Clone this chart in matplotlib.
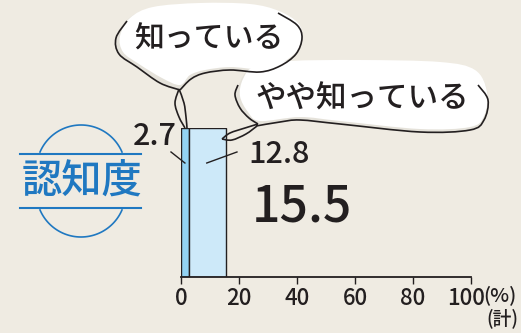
import numpy as np
import matplotlib
matplotlib.use("Agg")
import matplotlib.pyplot as plt
from matplotlib.path import Path
from matplotlib.patches import PathPatch
from matplotlib.transforms import ScaledTranslation

plt.rcParams['font.family'] = ['Noto Sans CJK JP', 'DejaVu Sans']

# ---- data ----
categories = ["知っている", "やや知っている"]
values = [2.7, 12.8]
total_label = "15.5"
value_labels = ["2.7", "12.8"]
xticks = [0, 20, 40, 60, 80, 100]
title_text = "認知度"

BG = "#efebe2"
DARK = "#231f20"
BLUE = "#1f78c1"
bar_colors = ["#93d3f3", "#cde9f9"]

W, H = 521, 333
fig = plt.figure(figsize=(W / 100, H / 100), dpi=100, facecolor=BG)

# data axes (pixel frame: x 0->181, 100->471 ; bar from y=128 to 277)
ax = fig.add_axes([181 / W, (H - 277) / H, 290 / W, 149 / H])
ax.set_facecolor("none")
left = 0
for v, c in zip(values, bar_colors):
    ax.barh(0, v, left=left, height=1.0, color=c, edgecolor=DARK, linewidth=1.0, zorder=2)
    left += v
ax.set_xlim(0, 100)
ax.set_ylim(-0.5, 0.5)
for s in ["top", "right", "left"]:
    ax.spines[s].set_visible(False)
ax.spines["bottom"].set_linewidth(1.3)
ax.spines["bottom"].set_color(DARK)
ax.set_yticks([])
ax.set_xticks(xticks)
ax.set_xticklabels([str(t) for t in xticks], fontweight="medium")
ax.tick_params(axis="x", direction="out", length=5, width=1, color=DARK,
               labelsize=16, labelcolor=DARK, pad=2)
# last tick label shifted slightly left to leave room for the unit
last = ax.get_xticklabels()[-1]
last.set_transform(last.get_transform() + ScaledTranslation(-5 / 100, 0, fig.dpi_scale_trans))

# value labels and leader lines
ax.text(-1.5, 0.44, value_labels[0], ha="right", va="center", fontsize=22,
        fontweight="medium", color=DARK, clip_on=False)
ax.plot([-3.45, values[0] / 2], [0.339, 0.265], color=DARK, lw=1, clip_on=False, zorder=3)
ax.text(23.1, 0.325, value_labels[1], ha="left", va="center", fontsize=22,
        fontweight="medium", color=DARK, clip_on=False)
ax.plot([19.3, values[0] + values[1] / 2.07], [0.339, 0.265], color=DARK, lw=1,
        clip_on=False, zorder=3)
ax.text(24.3, -0.035, total_label, ha="left", va="center", fontsize=36,
        fontweight="medium", color=DARK, clip_on=False)

# ---- overlay in pixel coordinates for decorations ----
ov = fig.add_axes([0, 0, 1, 1])
ov.set_xlim(0, W)
ov.set_ylim(H, 0)
ov.axis("off")
ov.patch.set_alpha(0)


def smooth(pts, closed=False):
    pts = np.asarray(pts, float)
    if closed:
        P = np.vstack([pts[-1], pts, pts[0], pts[1]])
    else:
        P = np.vstack([pts[0], pts, pts[-1]])
    verts = [P[1]]
    codes = [Path.MOVETO]
    for i in range(1, len(P) - 2):
        p0, p1, p2, p3 = P[i - 1], P[i], P[i + 1], P[i + 2]
        verts += [p1 + (p2 - p0) / 6, p2 - (p3 - p1) / 6, p2]
        codes += [Path.CURVE4] * 3
    if closed:
        verts.append(P[1])
        codes.append(Path.CLOSEPOLY)
    return Path(verts, codes)


SHADOW = "#e5e2da"

# bubble 1
b1_shadow = [(127, 20), (150, 9), (200, 5), (250, 6), (278, 13), (297, 25), (302, 38),
             (296, 54), (280, 66), (260, 72), (230, 70), (205, 73), (190, 79), (178, 90),
             (160, 83), (137, 67), (119, 54), (116, 38)]
b1_fill = [(130, 18), (153, 7), (200, 3), (250, 4), (279, 11), (298, 23), (302, 37),
           (296, 52), (281, 63), (260, 69), (230, 67), (205, 70), (190, 75), (180, 85),
           (162, 78), (139, 64), (123, 52), (120, 36)]
ov.add_patch(PathPatch(smooth(b1_shadow, True), facecolor=SHADOW, edgecolor="none", zorder=1))
ov.add_patch(PathPatch(smooth(b1_fill, True), facecolor="white", edgecolor="none", zorder=2))
b1_line_a = [(278, 13), (297, 25), (302, 38), (296, 54), (280, 66), (260, 72), (230, 70),
             (205, 73), (191, 79), (180, 90)]
b1_line_b = [(180, 90), (160, 83), (137, 67), (119, 54), (116, 38), (127, 21)]
b1_tail_l = [(179, 89), (175, 103), (179, 117), (185, 128)]
b1_tail_r = [(179, 89), (184, 103), (186, 117), (187, 128)]
for seg in [b1_line_a, b1_line_b, b1_tail_l, b1_tail_r]:
    ov.add_patch(PathPatch(smooth(seg), facecolor="none", edgecolor=DARK, lw=1.2, zorder=3))
ov.text(209, 39, categories[0], ha="center", va="center", fontsize=21.5,
        fontweight="medium", color=DARK, zorder=4)

# bubble 2
b2_shadow = [(240, 82), (252, 68), (290, 62), (360, 61), (440, 63), (476, 72), (488, 95),
             (485, 120), (470, 130), (420, 132), (340, 124), (300, 120), (258, 124),
             (245, 115), (236, 98)]
b2_fill = [(243, 79), (255, 66), (290, 61), (360, 60), (440, 62), (475, 70), (487, 92),
           (484, 116), (470, 127), (420, 129), (340, 121), (300, 117), (260, 121),
           (248, 112), (240, 96)]
ov.add_patch(PathPatch(smooth(b2_shadow, True), facecolor=SHADOW, edgecolor="none", zorder=1))
ov.add_patch(PathPatch(smooth(b2_fill, True), facecolor="white", edgecolor="none", zorder=2))
b2_line_l = [(238, 85), (235, 95), (240, 108), (249, 118), (258, 124)]
b2_line_b = [(256, 126), (280, 122), (300, 120), (340, 124), (420, 132), (470, 130),
             (484, 120), (488, 100), (478, 85)]
b2_tail_a = [(258, 124), (245, 128), (230, 133), (222, 139)]
b2_tail_b = [(222, 139), (232, 140), (246, 134), (257, 126)]
for seg in [b2_line_l, b2_line_b, b2_tail_a, b2_tail_b]:
    ov.add_patch(PathPatch(smooth(seg), facecolor="none", edgecolor=DARK, lw=1.2, zorder=3))
ov.text(362, 99, categories[1], ha="center", va="center", fontsize=22,
        fontweight="medium", color=DARK, zorder=4)

# 認知度 badge
ov.text(82, 181, title_text, ha="center", va="center", fontsize=29,
        fontweight="medium", color=BLUE, zorder=4)
ov.plot([20, 141], [154, 154], color=BLUE, lw=1.5)
ov.plot([20, 141], [208, 208], color=BLUE, lw=1.5)
r = 44.6
t = np.radians(np.linspace(23.2, 156.8, 60))
ov.plot(81 + r * np.cos(t), 169.6 - r * np.sin(t), color=BLUE, lw=1.2)
ov.plot(81 + r * np.cos(t), 192.4 + r * np.sin(t), color=BLUE, lw=1.2)

# unit labels
ov.text(483, 295, "(%)", ha="left", va="center", fontsize=14.5, fontweight="medium", color=DARK)
ov.text(486, 318, "(計)", ha="left", va="center", fontsize=13.5, fontweight="medium", color=DARK)

fig.savefig("out.png", dpi=100, facecolor=BG)
